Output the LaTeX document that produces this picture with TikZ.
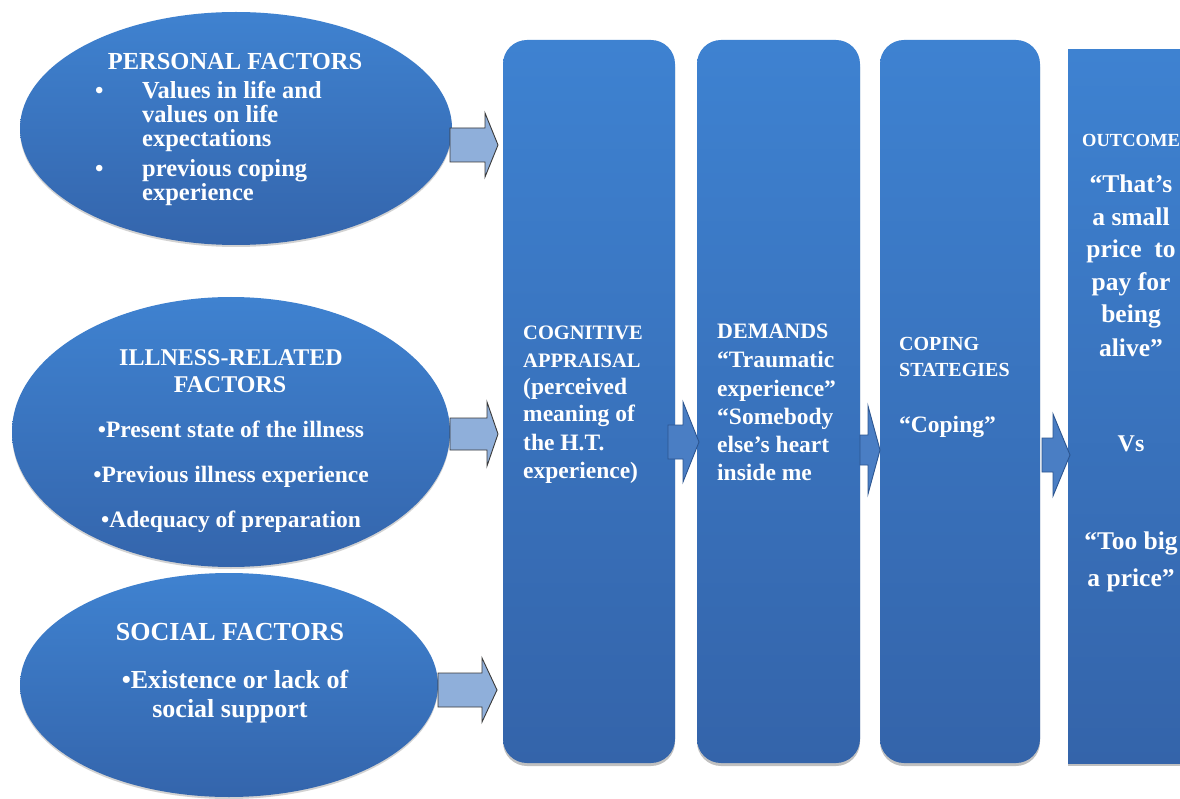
\documentclass[tikz,border=0pt]{standalone}
\usepackage{fontspec}
\setmainfont{Liberation Serif}
\usetikzlibrary{shapes.geometric,shadows}
\definecolor{boxtop}{HTML}{3E82D1}
\definecolor{boxbot}{HTML}{3464AA}
\definecolor{elltop}{HTML}{3F82D0}
\definecolor{ellbot}{HTML}{3465AC}
\definecolor{lightarrow}{HTML}{8FAFDA}
\definecolor{lightedge}{HTML}{3A3A3A}
\definecolor{darkarrow}{HTML}{4A7EC4}
\definecolor{darkedge}{HTML}{2C5590}
\newcommand{\fatarr}[7]{%
  \draw[#1] (#2,#5-#6) -- (#3,#5-#6) -- (#3,#5-#7) -- (#4,#5) -- (#3,#5+#7) -- (#3,#5+#6) -- (#2,#5+#6) -- cycle;}
\begin{document}
\begin{tikzpicture}[x=1pt,y=-1pt,
  ell/.style={ellipse, draw=none, inner sep=0pt, top color=elltop, bottom color=ellbot,
    drop shadow={shadow xshift=0pt, shadow yshift=-2pt, opacity=.25, fill=black!70}},
  stage/.style={rectangle, rounded corners=24pt, draw=none, inner sep=0pt,
    top color=boxtop, bottom color=boxbot,
    drop shadow={shadow xshift=0pt, shadow yshift=-3pt, opacity=.35, fill=black!70}},
  wt/.style={text=white, inner sep=0pt},
  lw/.style={wt, anchor=base west},
  lc/.style={wt, anchor=base},
  fs/.style={font=\bfseries\fontsize{#1}{#1}\selectfont},
  larr/.style={fill=lightarrow, draw=lightedge, line width=0.9pt, line join=miter},
  darr/.style={fill=darkarrow, draw=darkedge, line width=0.9pt, line join=miter}]
\useasboundingbox (0,0) rectangle (1180,799);
\clip (0,0) rectangle (1180,799);
\fill[white] (0,0) rectangle (1180,799);

% ellipses
\node[ell, minimum width=432pt, minimum height=233pt] (pers) at (236,128.5) {};
\node[ell, minimum width=438pt, minimum height=270pt] (ill) at (231,432) {};
\node[ell, minimum width=418pt, minimum height=224pt] (soc) at (229,685) {};

% stage boxes
\node[stage, minimum width=172pt, minimum height=723pt] (cog) at (589,401.5) {};
\node[stage, minimum width=163pt, minimum height=723pt] (dem) at (778.5,401.5) {};
\node[stage, minimum width=160pt, minimum height=723pt] (cop) at (960,401.5) {};
\node[stage, sharp corners, minimum width=140pt, minimum height=713pt] (out) at (1138,406.5) {};

% block arrows
\fatarr{larr}{450}{485}{498}{145}{17}{32}
\fatarr{larr}{450}{487}{498}{434}{16}{32}
\fatarr{larr}{438}{482}{497}{690}{17}{32}
\fatarr{darr}{668}{683}{699}{442}{17}{40}
\fatarr{darr}{860}{868}{880}{450}{15}{44}
\fatarr{darr}{1042}{1053}{1070}{455}{17}{41}

% personal factors
\node[lc, fs=24.5] (p0) at (235,70) {PERSONAL FACTORS};
\node[lw, fs=24] (pb1) at (95,99) {•};
\node[lw, fs=24.5] (p1) at (142,99) {Values in life and};
\node[lw, fs=24.5] (p2) at (142,123) {values on life};
\node[lw, fs=24.5] (p3) at (142,147) {expectations};
\node[lw, fs=24] (pb2) at (95,177) {•};
\node[lw, fs=24.5] (p4) at (142,177) {previous coping};
\node[lw, fs=24.5] (p5) at (142,201) {experience};

% illness-related factors
\node[lc, fs=24] (i0) at (231,365) {ILLNESS-RELATED};
\node[lc, fs=24] (i1) at (230,392) {FACTORS};
\node[lc, fs=23.5] (i2) at (231,437) {•Present state of the illness};
\node[lc, fs=23.5] (i3) at (231,482) {•Previous illness experience};
\node[lc, fs=23.5] (i4) at (231,527) {•Adequacy of preparation};

% social factors
\node[lc, fs=26] (s0) at (230,640) {SOCIAL FACTORS};
\node[lc, fs=26] (s1) at (235,688) {•Existence or lack of};
\node[lc, fs=26] (s2) at (230,717) {social support};

% cognitive appraisal
\node[lw, fs=20.5] (c1) at (523,340) {COGNITIVE};
\node[lw, fs=20.5] (c2) at (523,367) {APPRAISAL};
\node[lw, fs=23.5] (c3) at (523,394) {(perceived};
\node[lw, fs=23.5] (c4) at (523,421) {meaning of};
\node[lw, fs=23.5] (c5) at (523,450) {the H.T.};
\node[lw, fs=23.5] (c6) at (523,478) {experience)};

% demands
\node[lw, fs=22] (d1) at (717,339) {DEMANDS};
\node[lw, fs=23.5] (d2) at (717,367) {“Traumatic};
\node[lw, fs=23.5] (d3) at (717,396) {experience”};
\node[lw, fs=23.5] (d4) at (717,424) {“Somebody};
\node[lw, fs=23.5] (d5) at (717,452) {else’s heart};
\node[lw, fs=23.5] (d6) at (717,480) {inside me};

% coping
\node[lw, fs=20] (k1) at (899,350) {COPING};
\node[lw, fs=20] (k2) at (899,376) {STATEGIES};
\node[lw, fs=23.5] (k3) at (899,432) {“Coping”};

% outcome
\node[lw, fs=18.5] (o0) at (1082,147) {OUTCOME};
\node[lc, fs=25.5] (o1) at (1131,193) {“That’s};
\node[lc, fs=25.5] (o2) at (1131,226) {a small};
\node[lc, fs=25.5] (o3) at (1131,258) {price\ \ to};
\node[lc, fs=25.5] (o4) at (1131,291) {pay for};
\node[lc, fs=25.5] (o5) at (1131,323) {being};
\node[lc, fs=25.5] (o6) at (1131,356) {alive”};
\node[lc, fs=24] (o7) at (1131,451) {Vs};
\node[lc, fs=25.5] (o8) at (1131,549) {“Too big};
\node[lc, fs=25.5] (o9) at (1131,586) {a price”};
\end{tikzpicture}
\end{document}
